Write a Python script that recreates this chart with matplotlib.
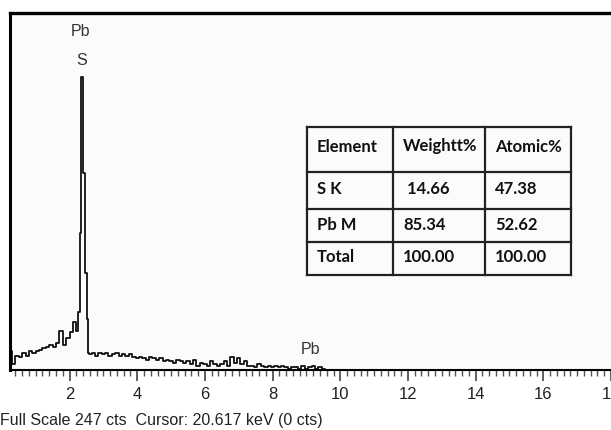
import numpy as np
import matplotlib
matplotlib.use("Agg")
import matplotlib.pyplot as plt
from matplotlib.lines import Line2D

# ---------------- data ----------------
low_energy = [0.25, 0.35, 0.45, 0.55, 0.65, 0.75, 0.85, 0.95, 1.05, 1.15, 1.25,
              1.35, 1.45, 1.55, 1.65, 1.75, 1.85, 1.95, 2.05, 2.15, 2.22]
low_counts = [13, 4, 10, 9, 12, 10, 13, 12, 13, 14, 15,
              16, 17, 16, 19, 27, 17, 22, 26, 33, 27]

peak_energy = [2.28, 2.32, 2.37, 2.43, 2.485, 2.52, 2.56]
peak_counts = [40, 95, 203, 136, 67, 35, 12]

noise_energy = list(np.round(2.6 + 0.1 * np.arange(71), 2))
noise_counts = [11, 12, 10, 12,
                11, 12, 10, 11, 12, 10, 11, 10, 11,
                9, 8, 9, 8, 7, 9, 8, 7, 8,
                6, 7, 6, 5, 7, 6, 5, 6,
                4, 7, 3, 5, 4, 3, 6, 4, 3,
                4, 6, 3, 9, 5, 8, 4, 6, 3,
                3, 2, 4, 3, 2, 3, 2, 3, 2, 3, 2, 1, 2,
                2, 1, 3, 1, 2, 3, 1, 2, 1, 0]

tail_energy = [9.7, 18.1]
tail_counts = [0, 0]

energy = low_energy + peak_energy + noise_energy + tail_energy
counts = low_counts + peak_counts + noise_counts + tail_counts

peak_labels = ["Pb", "S", "Pb"]
label_energy = [2.33, 2.36, 9.13]
label_counts = [234, 214, 14]

x_ticks = [2, 4, 6, 8, 10, 12, 14, 16, 18]
full_scale = 247
footer = "Full Scale 247 cts  Cursor: 20.617 keV (0 cts)"

table_header = ["Element", "Weightt%", "Atomic%"]
table_elements = ["S K", "Pb M", "Total"]
table_weight = [" 14.66", "85.34", "100.00"]
table_atomic = ["47.38", "52.62", "100.00"]

# ---------------- figure ----------------
W, H = 611, 430
fig = plt.figure(figsize=(W / 100, H / 100), dpi=100, facecolor="white")

def fx(px):
    return px / W

def fy(py):
    return 1 - py / H

ax_left, ax_top, ax_bottom = 10, 13, 370
ax = fig.add_axes([fx(ax_left), fy(ax_bottom), 1 - fx(ax_left), fy(ax_top) - fy(ax_bottom)])
ax.set_facecolor("#fbfbfb")

ax.plot(energy, counts, drawstyle="steps-mid", color="#111111", lw=1.3)

ax.set_xlim(0.24, 18.0)
ax.set_ylim(0, full_scale)

ax.spines["right"].set_visible(False)
ax.spines["top"].set_linewidth(2.4)
ax.spines["left"].set_linewidth(2.2)
ax.spines["bottom"].set_linewidth(1.5)
for s in ["top", "left", "bottom"]:
    ax.spines[s].set_color("black")

ax.set_yticks([])
ax.set_xticks(x_ticks)
ax.set_xticks(np.round(np.arange(0.4, 18.01, 0.2), 2), minor=True)
ax.tick_params(axis="x", which="major", length=8, width=1.1, direction="out",
               pad=4, labelsize=12, labelcolor="#222222", color="#333333")
ax.tick_params(axis="x", which="minor", length=4, width=1.0, direction="out",
               color="#555555")
for lab in ax.get_xticklabels():
    lab.set_family("Liberation Sans")

for t, e, c in zip(peak_labels, label_energy, label_counts):
    ax.text(e, c, t, ha="center", va="center", fontsize=11.5,
            family="Liberation Sans", color="#333333")

fig.text(fx(0), fy(421), footer, ha="left", va="center", fontsize=11.5,
         family="Liberation Sans", color="#222222")

# ---------------- table ----------------
col_x = [307, 393, 485, 571]
row_y = [127, 172, 209, 242, 275]
lw = 1.6
for xv in col_x:
    fig.add_artist(Line2D([fx(xv), fx(xv)], [fy(row_y[0]), fy(row_y[-1])],
                          color="#222222", lw=lw))
for yv in row_y:
    fig.add_artist(Line2D([fx(col_x[0]), fx(col_x[-1])], [fy(yv), fy(yv)],
                          color="#222222", lw=lw))

text_x = [317, 403, 495]
rows = [table_header] + [list(r) for r in zip(table_elements, table_weight, table_atomic)]
for i, row in enumerate(rows):
    yc = (row_y[i] + row_y[i + 1]) / 2 - (3 if i == 0 else 1)
    for j, txt in enumerate(row):
        fig.text(fx(text_x[j]), fy(yc), txt, ha="left", va="center",
                 fontsize=12, fontweight="bold", family="Lato", color="#111111")

fig.savefig("out.png", dpi=100, facecolor="white")
